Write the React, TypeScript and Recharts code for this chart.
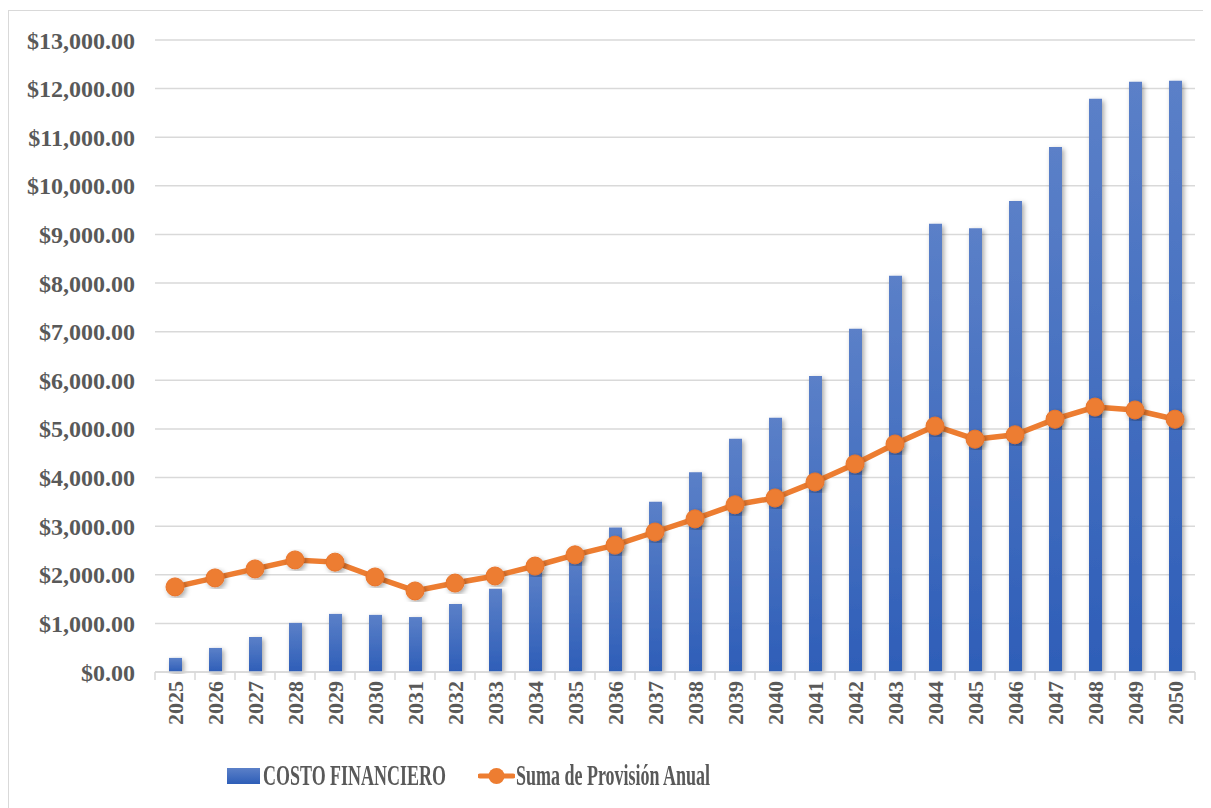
import React from 'react';
import { ComposedChart, Bar, Line, XAxis, YAxis, CartesianGrid, Legend } from 'recharts';

const years = ['2025','2026','2027','2028','2029','2030','2031','2032','2033','2034','2035','2036','2037','2038','2039','2040','2041','2042','2043','2044','2045','2046','2047','2048','2049','2050'];
const costoFinanciero = [290, 495, 720, 1010, 1195, 1175, 1130, 1400, 1710, 2100, 2500, 2970, 3500, 4110, 4800, 5230, 6090, 7060, 8150, 9220, 9130, 9690, 10800, 11790, 12140, 12160];
const provisionAnual = [1750, 1935, 2120, 2305, 2260, 1955, 1667, 1830, 1975, 2180, 2410, 2610, 2880, 3150, 3440, 3580, 3910, 4280, 4690, 5060, 4790, 4880, 5200, 5450, 5390, 5200];
const yTicks = [0, 1000, 2000, 3000, 4000, 5000, 6000, 7000, 8000, 9000, 10000, 11000, 12000, 13000];

const data = years.map((y, i) => ({ year: y, costo: costoFinanciero[i], provision: provisionAnual[i] }));

const FONT = '"Liberation Serif", "Times New Roman", serif';
const GREY = '#595959';

const fmt = (v: number) => '$' + v.toLocaleString('en-US', { minimumFractionDigits: 2, maximumFractionDigits: 2 });

const XTick = (props: any) => {
  const { x, y, payload, index } = props;
  return (
    <g>
      <line x1={x - 20} y1={y - 8} x2={x - 20} y2={y} stroke="#d9d9d9" strokeWidth={1.5} />
      {index === years.length - 1 && (
        <line x1={x + 20} y1={y - 8} x2={x + 20} y2={y} stroke="#d9d9d9" strokeWidth={1.5} />
      )}
      <text
        x={x}
        y={y + 1}
        transform={`rotate(-90 ${x} ${y + 1})`}
        textAnchor="end"
        dominantBaseline="central"
        fill={GREY}
        fontFamily={FONT}
        fontWeight="bold"
        fontSize={22}
      >
        {payload.value}
      </text>
    </g>
  );
};

const labelStyle: React.CSSProperties = {
  position: 'absolute',
  top: 0,
  height: 67,
  lineHeight: '67px',
  whiteSpace: 'nowrap',
  fontFamily: FONT,
  fontWeight: 'bold',
  fontSize: 29,
  color: GREY,
  transform: 'scaleX(0.62)',
  transformOrigin: 'left center',
};

const LegendContent = () => (
  <div style={{ position: 'relative', width: 1203, height: 67 }}>
    <div style={{ position: 'absolute', left: 218, top: 26, width: 33, height: 16, background: 'linear-gradient(#5B80C8, #2E5EB8)' }} />
    <span style={{ ...labelStyle, left: 254 }}>COSTO FINANCIERO</span>
    <svg style={{ position: 'absolute', left: 469, top: 24 }} width={37} height={20}>
      <line x1={2} y1={10} x2={35} y2={10} stroke="#ED7D31" strokeWidth={5} strokeLinecap="round" />
      <circle cx={18.5} cy={10} r={8} fill="#ED7D31" />
    </svg>
    <span style={{ ...labelStyle, left: 507 }}>Suma de Provisión Anual</span>
  </div>
);

export default function App() {
  return (
    <div style={{ width: 1210, height: 800, border: '1px solid #d9d9d9', marginTop: 2, boxSizing: 'border-box', background: '#fff' }}>
      <ComposedChart width={1203} height={798} data={data} margin={{ top: 29, right: 17, bottom: 0, left: 0 }} barCategoryGap={13.5}>
        <defs>
          <linearGradient id="barGrad" x1="0" y1="0" x2="0" y2="1">
            <stop offset="0%" stopColor="#5B80C8" />
            <stop offset="100%" stopColor="#2E5EB8" />
          </linearGradient>
          <filter id="shadow" x="-50%" y="-10%" width="200%" height="120%">
            <feDropShadow dx={2} dy={2} stdDeviation={2.5} floodColor="#000" floodOpacity={0.35} />
          </filter>
        </defs>
        <CartesianGrid vertical={false} stroke="#d9d9d9" strokeWidth={1.5} />
        <XAxis
          dataKey="year"
          height={70}
          interval={0}
          axisLine={{ stroke: '#d9d9d9', strokeWidth: 1.5 }}
          tickLine={false}
          tick={<XTick />}
        />
        <YAxis
          width={146}
          domain={[0, 13000]}
          ticks={yTicks}
          tickFormatter={fmt}
          axisLine={false}
          tickLine={false}
          tick={{ fill: GREY, fontFamily: FONT, fontWeight: 'bold', fontSize: 24 }}
          tickMargin={14}
        />
        <Legend verticalAlign="bottom" content={<LegendContent />} wrapperStyle={{ height: 67 }} />
        <Bar dataKey="costo" name="COSTO FINANCIERO" fill="url(#barGrad)" barSize={13} filter="url(#shadow)" isAnimationActive={false} />
        <Line
          dataKey="provision"
          name="Suma de Provisión Anual"
          stroke="#ED7D31"
          strokeWidth={5.5}
          dot={{ r: 9, fill: '#ED7D31', stroke: '#E8742A', strokeWidth: 1, filter: 'url(#shadow)' }}
          isAnimationActive={false}
        />
      </ComposedChart>
    </div>
  );
}
